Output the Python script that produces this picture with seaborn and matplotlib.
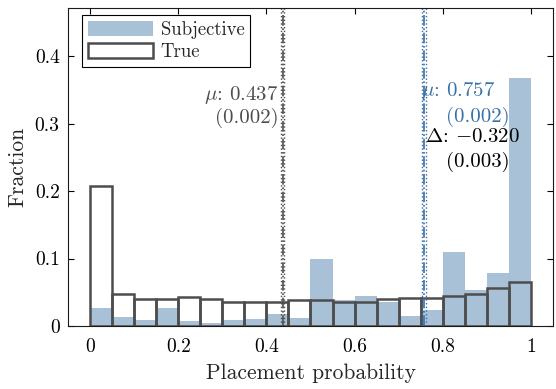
import numpy as np
import pandas as pd
import seaborn as sns
import matplotlib.pyplot as plt
from matplotlib.patches import Patch
from matplotlib.ticker import FuncFormatter

# histogram fractions, 20 bins of width 0.05
edges = [round(0.05 * i, 2) for i in range(21)]
subjective = [0.026, 0.014, 0.009, 0.027, 0.008, 0.005, 0.009, 0.010, 0.018, 0.012,
              0.099, 0.0385, 0.044, 0.036, 0.015, 0.024, 0.110, 0.054, 0.078, 0.368]
true_frac = [0.208, 0.047, 0.040, 0.040, 0.043, 0.040, 0.036, 0.035, 0.036, 0.038,
             0.0385, 0.036, 0.035, 0.040, 0.041, 0.041, 0.045, 0.047, 0.057, 0.065]
mean_true, se_true = 0.437, 0.002
mean_subj, se_subj = 0.757, 0.002
delta, se_delta = -0.320, 0.003

blue = (0.66, 0.757, 0.839)
dark_blue = (0.22, 0.44, 0.65)
gray = (0.30, 0.30, 0.30)

sns.set_style("ticks")
plt.rcParams["font.family"] = "serif"
plt.rcParams["font.serif"] = ["cmr10"]
plt.rcParams["mathtext.fontset"] = "cm"
plt.rcParams["axes.formatter.use_mathtext"] = True

centers = [(a + b) / 2 for a, b in zip(edges[:-1], edges[1:])]
df = pd.DataFrame({"x": centers, "subj": subjective, "true": true_frac})

fig = plt.figure(figsize=(5.56, 3.89), dpi=100)
ax = fig.add_axes([0.1223, 0.162, 0.8723, 0.817])

sns.histplot(data=df, x="x", weights="subj", bins=edges, color=blue, alpha=1,
             linewidth=0, ax=ax)
sns.histplot(data=df, x="x", weights="true", bins=edges, fill=False,
             color=gray, linewidth=1.8, ax=ax)

# means with standard error lines
for m, se, c in [(mean_true, se_true, gray), (mean_subj, se_subj, dark_blue)]:
    ax.axvline(m, color=c, linestyle="-.", linewidth=1.2)
    ax.axvline(m - 2 * se, color=c, linestyle=":", linewidth=1.0)
    ax.axvline(m + 2 * se, color=c, linestyle=":", linewidth=1.0)

fs = 15
ax.text(0.428, 0.342, r"$\mu$: 0.437", ha="right", va="center", color=gray, fontsize=fs)
ax.text(0.428, 0.309, "(0.002)", ha="right", va="center", color=gray, fontsize=fs)
ax.text(0.751, 0.3486, r"$\mu$: 0.757", ha="left", va="center", color=dark_blue, fontsize=fs)
ax.text(0.8075, 0.310, "(0.002)", ha="left", va="center", color=dark_blue, fontsize=fs)
ax.text(0.760, 0.2804, r"$\Delta$: $-$0.320", ha="left", va="center", color="black", fontsize=fs)
ax.text(0.8075, 0.2425, "(0.003)", ha="left", va="center", color="black", fontsize=fs)

ax.set_xlim(-0.05, 1.05)
ax.set_ylim(0, 0.471)
ax.set_xticks([0, 0.2, 0.4, 0.6, 0.8, 1])
ax.set_yticks([0, 0.1, 0.2, 0.3, 0.4])
fmt = FuncFormatter(lambda v, p: "%g" % v)
ax.xaxis.set_major_formatter(fmt)
ax.yaxis.set_major_formatter(fmt)
ax.tick_params(direction="in", top=True, right=True, length=4, width=0.8,
               labelsize=14, pad=6, colors="black")
ax.tick_params(axis="x", pad=9)
for s in ax.spines.values():
    s.set_visible(True)
    s.set_linewidth(0.8)
    s.set_color("0.1")
ax.set_xlabel("Placement probability", fontsize=15.5, labelpad=5)
ax.set_ylabel("Fraction", fontsize=15.5, labelpad=5)

handles = [Patch(facecolor=blue, edgecolor="none", label="Subjective"),
           Patch(facecolor="white", edgecolor=gray, linewidth=1.8, label="True")]
leg = ax.legend(handles=handles, loc="upper left", bbox_to_anchor=(0.029, 0.978),
                borderaxespad=0, fontsize=13.5, handlelength=3.5, handleheight=0.85,
                fancybox=False, edgecolor="black", framealpha=1, borderpad=0.3,
                labelspacing=0.25, handletextpad=0.4)
leg.get_frame().set_linewidth(0.8)

fig.savefig("out.png", dpi=100)
